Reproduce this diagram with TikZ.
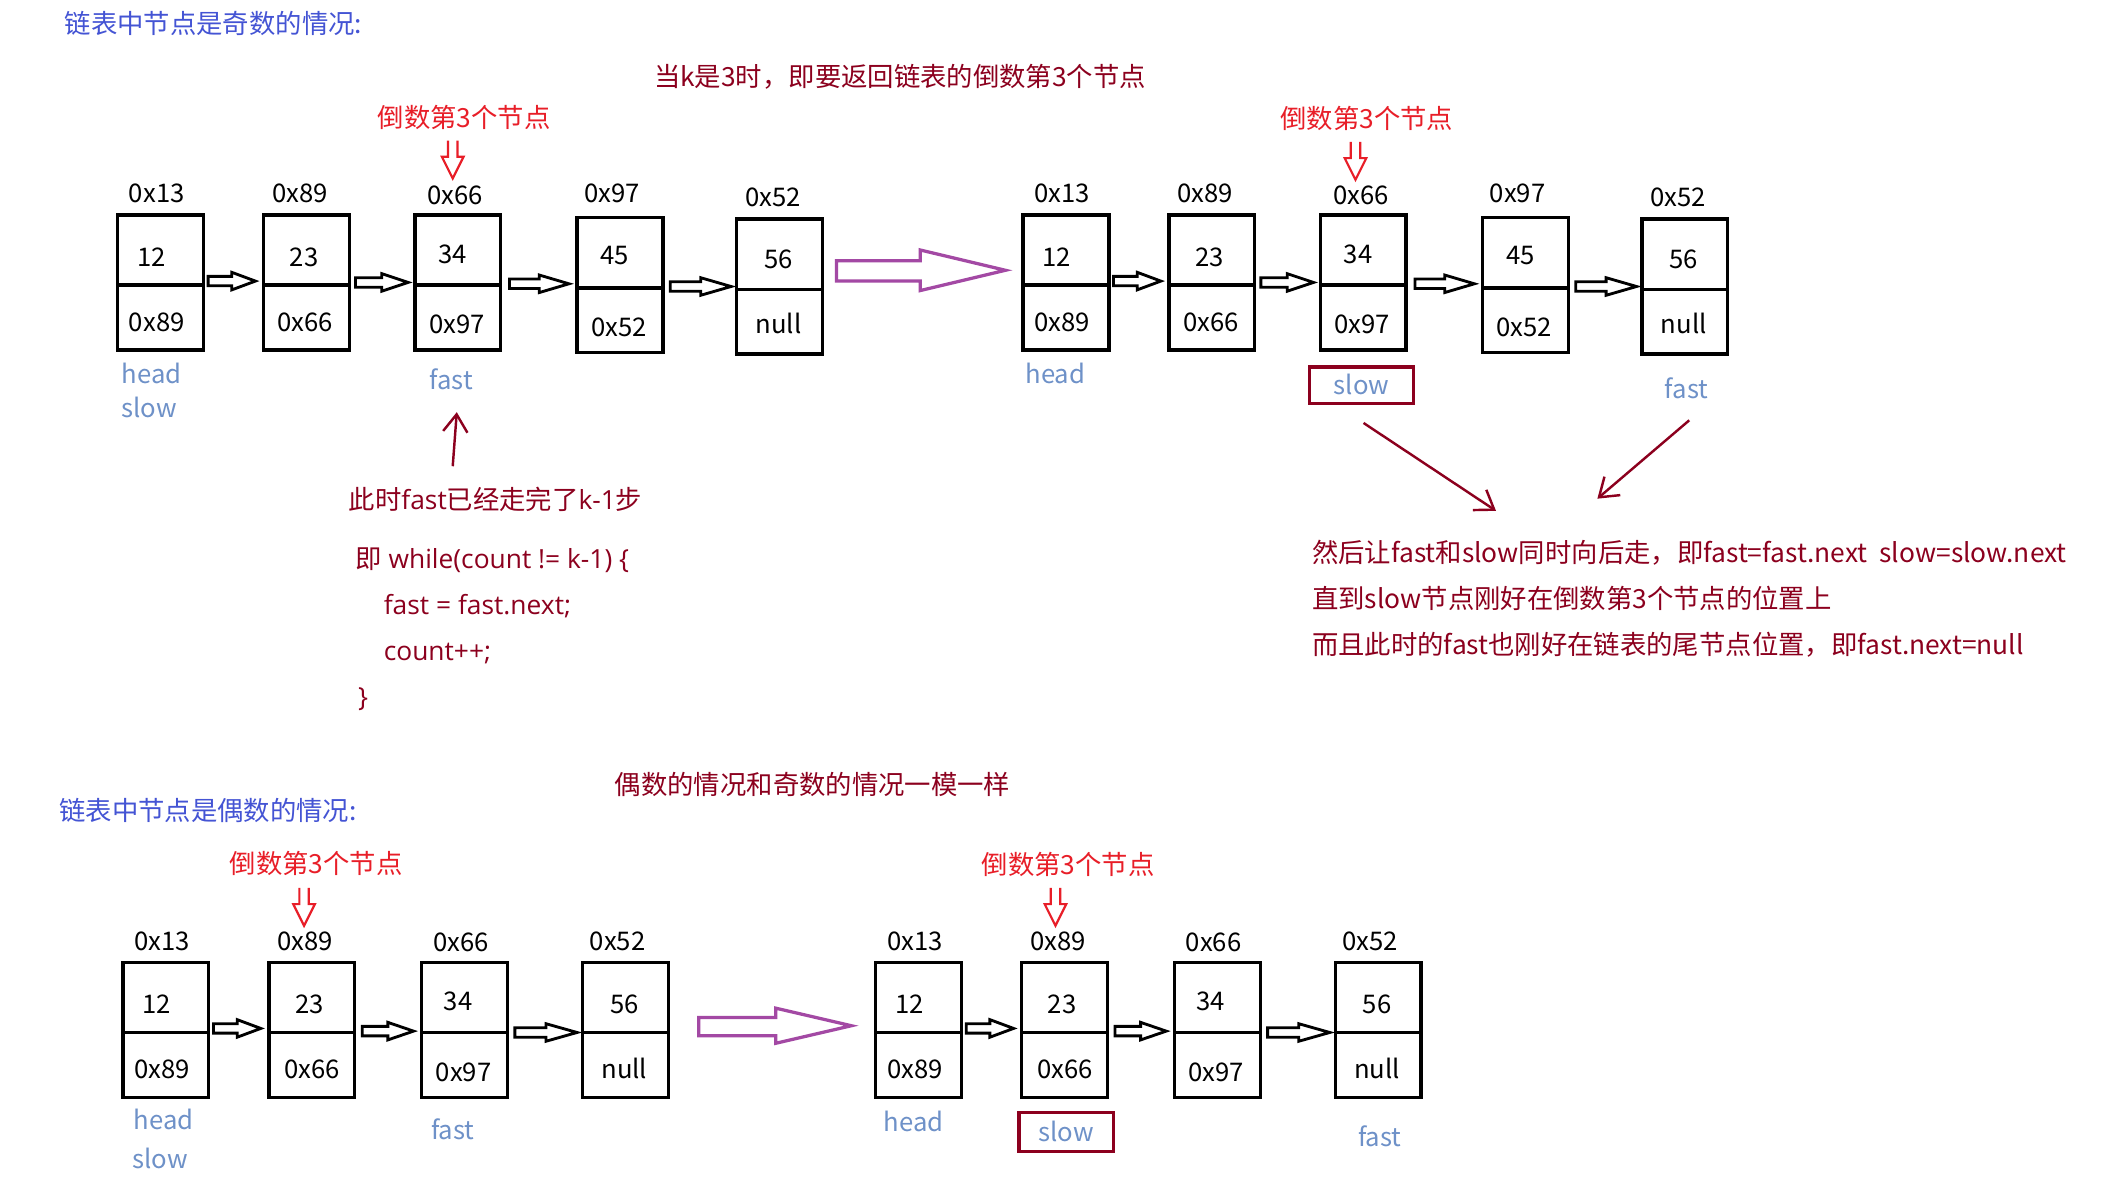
\documentclass[tikz,border=0pt]{standalone}
\usepackage{fontspec}
\setmainfont{Noto Sans CJK SC}
\newfontfamily\osf{Open Sans}
\usetikzlibrary{calc,arrows.meta}
\definecolor{ttlblue}{RGB}{68,84,212}
\definecolor{hotred}{RGB}{232,30,40}
\definecolor{dred}{RGB}{140,0,30}
\definecolor{ptrblue}{RGB}{110,145,200}
\definecolor{purp}{RGB}{163,73,164}
\tikzset{
  every node/.style={inner sep=0pt, outer sep=0pt, text height=14pt, text depth=0pt},
  txt/.style={font=\fontsize{19}{23}\selectfont},
  val/.style={txt, text=black},
  addr/.style={txt, text=black},
  ptr/.style={txt, text=ptrblue},
  ttl/.style={font=\fontsize{19.5}{24}\selectfont, text=ttlblue, anchor=west},
  note/.style={font=\fontsize{19.5}{24}\selectfont, text=dred, anchor=west},
  callout/.style={font=\fontsize{19.5}{24}\selectfont, text=hotred},
  cellbox/.style={draw=black, line width=2.5pt, minimum width=63.5pt, minimum height=100pt},
  cellline/.style={draw=black, line width=2.5pt},
  pics/harr/.style={code={\draw[black, line width=2.1pt, line join=miter]
     (0,-3.5) -- ({#1/2},-3.5) -- ({#1/2},-6.5) -- (#1,0) -- ({#1/2},6.5) -- ({#1/2},3.5) -- (0,3.5) -- cycle;}},
  pics/dnarr/.style={code={\draw[hotred, line width=1.6pt, line join=miter]
     (-3.5,0) -- (-3.5,12) -- (-8,12) -- (0,28) -- (8,12) -- (3.5,12) -- (3.5,0);}},
  bigarr/.style={draw=purp, line width=2.4pt, line join=miter},
  hand/.style={draw=dred, line width=1.8pt, -{Straight Barb[length=13pt,width=18pt]}},
  slowbox/.style={ptr, draw=dred, line width=2.4pt, minimum width=77pt, minimum height=27pt},
}
\newcommand\cellat[3]{%
  \node[cellbox] (#1) at ({#2+31.75},{#3+50}) {};
  \draw[cellline] ($(#1.west)+(0,2)$) -- ($(#1.east)+(0,2)$);}
\newcommand\rowodd[2]{%
\begin{scope}[xshift=#2pt]
\cellat{#1b1}{87}{159}
\cellat{#1b2}{195}{159}
\cellat{#1b3}{307}{159}
\cellat{#1b4}{427}{161}
\cellat{#1b5}{545}{162}
\node[addr] (#1a1) at (116,143) {0x13};
\node[addr] (#1a2) at (222,143) {0x89};
\node[addr] (#1a3) at (337,144) {0x66};
\node[addr] (#1a4) at (453,143) {0x97};
\node[addr] (#1a5) at (572,146) {0x52};
\node[val] (#1d1) at (112,190) {12};
\node[val] (#1d2) at (225,190) {23};
\node[val] (#1d3) at (335,188) {34};
\node[val] (#1d4) at (455,189) {45};
\node[val] (#1d5) at (576,192) {56};
\node[val] (#1n1) at (116,238) {0x89};
\node[val] (#1n2) at (226,238) {0x66};
\node[val] (#1n3) at (338,240) {0x97};
\node[val] (#1n4) at (458,242) {0x52};
\node[val] (#1n5) at (576,240) {null};
\pic at (154,208) {harr=35};
\pic at (263,209) {harr=39};
\pic at (377,210) {harr=44};
\pic at (496,212) {harr=45};
\end{scope}}
\newcommand\roweven[2]{%
\begin{scope}[xshift=#2pt]
\cellat{#1b1}{91}{712}
\cellat{#1b2}{199}{712}
\cellat{#1b3}{312}{712}
\cellat{#1b4}{431}{712}
\node[addr] (#1a1) at (120,696) {0x13};
\node[addr] (#1a2) at (226,696) {0x89};
\node[addr] (#1a3) at (341,697) {0x66};
\node[addr] (#1a4) at (457,696) {0x52};
\node[val] (#1d1) at (116,743) {12};
\node[val] (#1d2) at (229,743) {23};
\node[val] (#1d3) at (339,741) {34};
\node[val] (#1d4) at (462,743) {56};
\node[val] (#1n1) at (120,791) {0x89};
\node[val] (#1n2) at (231,791) {0x66};
\node[val] (#1n3) at (343,793) {0x97};
\node[val] (#1n4) at (462,791) {null};
\pic at (158,761) {harr=35};
\pic at (268,763) {harr=38};
\pic at (381,764) {harr=46};
\end{scope}}
\begin{document}
\begin{tikzpicture}[x=1pt,y=-1pt]
\fill[white] (0,0) rectangle (1568,875);
\useasboundingbox (0,0) rectangle (1568,875);

% ---------- odd case ----------
\node[ttl] (t1) at (48,18) {链表中节点是奇数的情况:};
\node[note] (t2) at (484,57) {当k是3时，即要返回链表的倒数第3个节点};

\rowodd{a}{0}
\rowodd{b}{670}

\node[callout] (c1) at (343.5,87) {倒数第3个节点};
\pic at (335,104) {dnarr};
\node[callout] (c2) at (1011.5,88) {倒数第3个节点};
\pic at (1003,105) {dnarr};

\node[ptr, anchor=west] (ahead) at (90,277) {head};
\node[ptr, anchor=west] (aslow) at (90,302) {slow};
\node[ptr] (afast) at (334,281) {fast};
\node[ptr] (bhead) at (781,277) {head};
\node[slowbox] (bslow) at (1007.5,285) {slow};
\node[ptr] (bfast) at (1248,288) {fast};

% big transition arrow
\draw[bigarr] (619,193) -- (681,193) -- (681,185) -- (744,200) -- (681,215) -- (681,208) -- (619,208) -- cycle;

% hand arrows
\coordinate (up0) at (335,345);
\coordinate (up1) at (338,305);
\draw[hand] (up0) -- (up1);
\coordinate (s0) at (1009,313);
\coordinate (s1) at (1107,378);
\draw[hand] (s0) -- (s1);
\coordinate (f0) at (1250,311);
\coordinate (f1) at (1182,369);
\draw[hand] (f0) -- (f1);

\node[note] (n1) at (258,370) {此时{\osf fast}已经走完了{\osf k-1}步};
\node[note] (n2) at (263,414) {即{\osf\ while(count != k-1) \{}};
\node[note] (n3) at (284,448) {\osf fast = fast.next;};
\node[note] (n4) at (284,482) {\osf count++;};
\node[note] (n5) at (265,516) {\osf \}};

\node[note] (r1) at (971,409) {然后让fast和slow同时向后走，即fast=fast.next\hspace{9pt}slow=slow.next};
\node[note] (r2) at (971,443) {直到slow节点刚好在倒数第3个节点的位置上};
\node[note] (r3) at (971,477) {而且此时的fast也刚好在链表的尾节点位置，即fast.next=null};

% ---------- even case ----------
\node[note] (t3) at (455,581) {偶数的情况和奇数的情况一模一样};
\node[ttl] (t4) at (44,600) {链表中节点是偶数的情况:};

\roweven{c}{0}
\roweven{d}{557}

\node[callout] (c3) at (234,639) {倒数第3个节点};
\pic at (225,657) {dnarr};
\node[callout] (c4) at (790.5,640) {倒数第3个节点};
\pic at (781,657) {dnarr};

\node[ptr, anchor=west] (chead) at (99,829) {head};
\node[ptr, anchor=west] (cslow) at (98,858) {slow};
\node[ptr] (cfast) at (335,836) {fast};
\node[ptr] (dhead) at (676,830) {head};
\node[slowbox, minimum width=70pt, minimum height=29pt] (dslow) at (789,837.5) {slow};
\node[ptr] (dfast) at (1021,841) {fast};

\draw[bigarr] (517,753) -- (574,753) -- (574,746) -- (630,759) -- (574,772) -- (574,766.5) -- (517,766.5) -- cycle;
\end{tikzpicture}
\end{document}
